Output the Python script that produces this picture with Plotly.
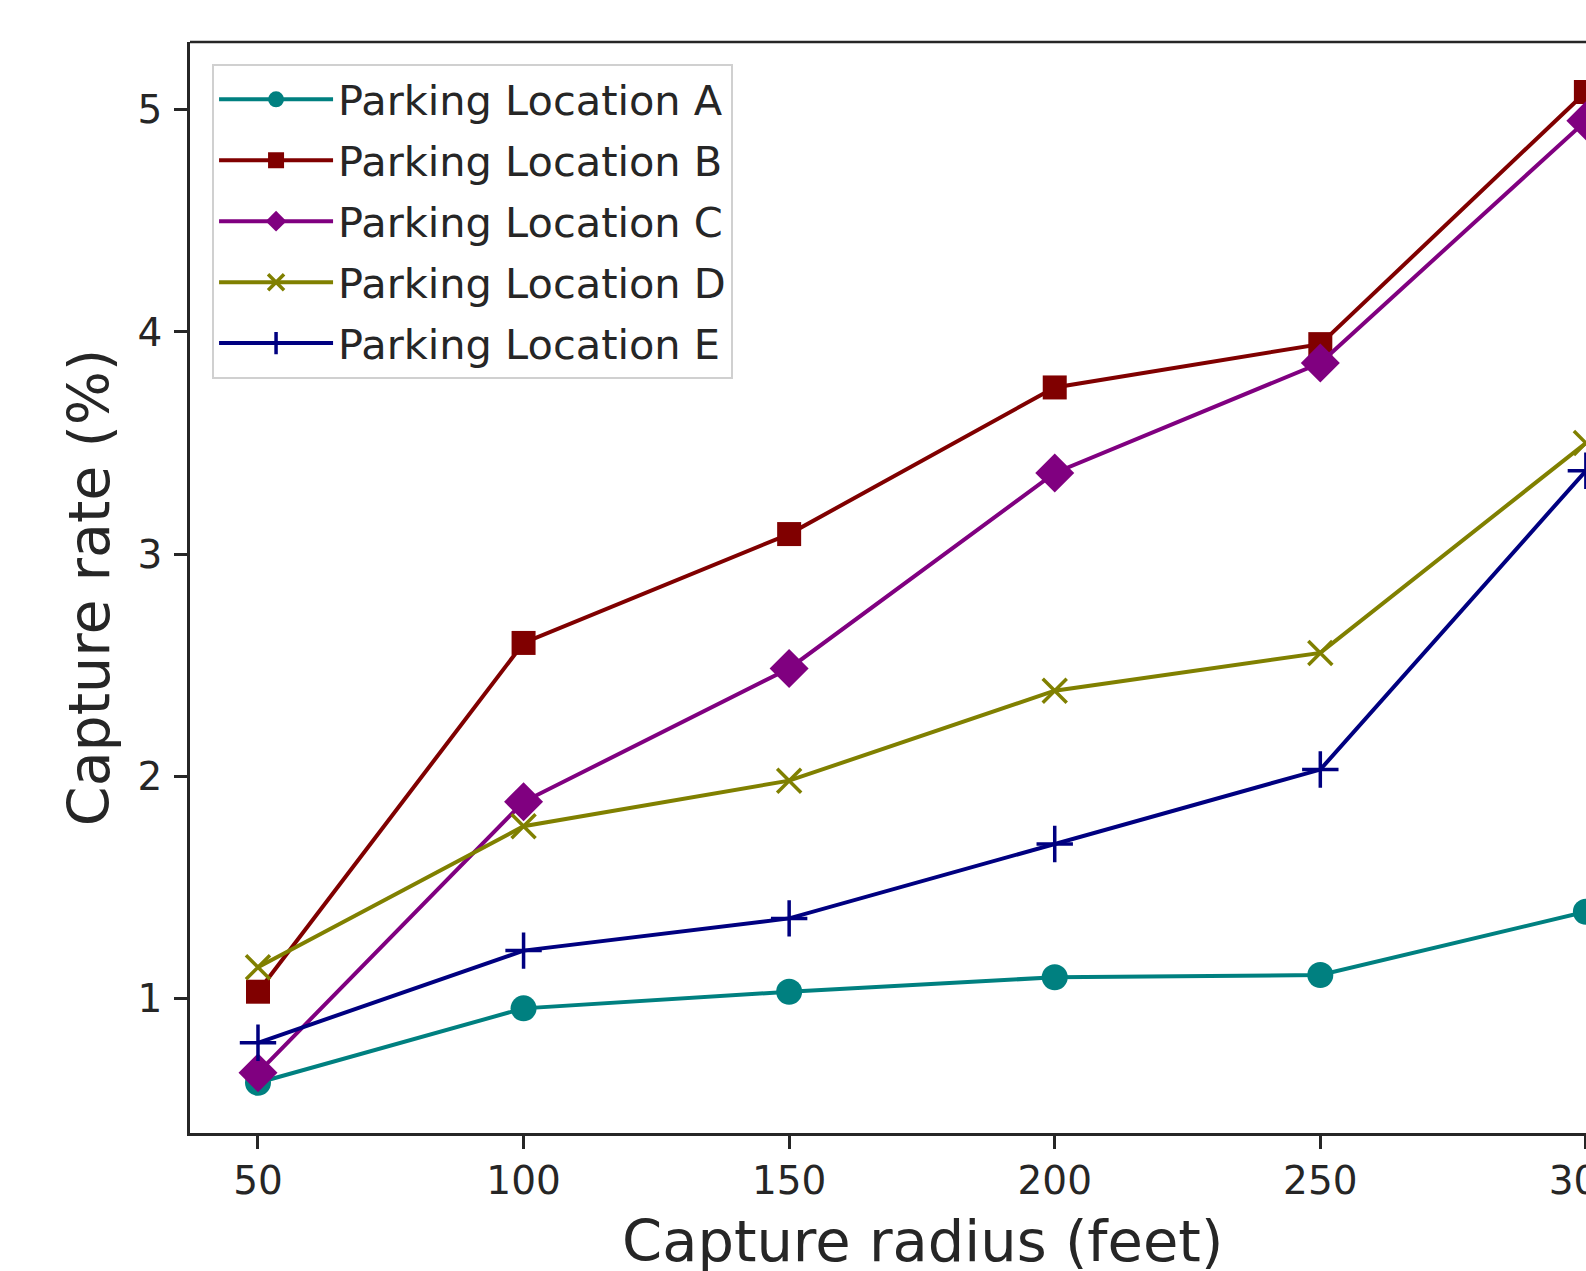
import plotly.graph_objects as go

radius = [50, 100, 150, 200, 250, 300]
names = ["Parking Location A", "Parking Location B", "Parking Location C",
         "Parking Location D", "Parking Location E"]
loc_a = [0.62, 0.955, 1.03, 1.095, 1.105, 1.39]
loc_b = [1.03, 2.60, 3.09, 3.75, 3.945, 5.08]
loc_c = [0.665, 1.885, 2.485, 3.365, 3.86, 4.95]
loc_d = [1.14, 1.775, 1.98, 2.385, 2.555, 3.50]
loc_e = [0.80, 1.215, 1.36, 1.695, 2.03, 3.375]
x_ticks = [50, 100, 150, 200, 250, 300]
y_ticks = [1, 2, 3, 4, 5]
x_title = "Capture radius (feet)"
y_title = "Capture rate (%)"

series = [loc_a, loc_b, loc_c, loc_d, loc_e]
colors = ["#008080", "#800000", "#800080", "#808000", "#000080"]
symbols = ["circle", "square", "diamond", "x-thin", "cross-thin"]
sizes = [26, 24, 30, 24, 26]

fig = go.Figure()
for i, (nm, ys, c, s, sz) in enumerate(zip(names, series, colors, symbols, sizes)):
    thin = s.endswith("thin")
    fig.add_trace(go.Scatter(
        x=radius, y=ys, name=nm, mode="lines+markers", legendgroup=f"g{i}",
        line=dict(color=c, width=4),
        marker=dict(symbol=s, size=sz, color=c,
                    line=dict(color=c, width=3.5 if thin else 0)),
    ))

axis_color = "#262626"
font_family = "DejaVu Sans"
fig.update_layout(
    width=1586, height=1271,
    margin=dict(l=190, r=0, t=42, b=138, autoexpand=False),
    plot_bgcolor="white", paper_bgcolor="white",
    font=dict(family=font_family, color="#262626", size=40),
    showlegend=True,
    legend=dict(
        x=0.0158, y=0.980, xanchor="left", yanchor="top",
        bgcolor="white", bordercolor="#d0d0d0", borderwidth=2,
        font=dict(size=41.5, family=font_family, color="#262626"),
        itemwidth=114, tracegroupgap=4,
    ),
    xaxis=dict(
        range=[37.2, 300.02], tickvals=x_ticks, ticktext=[str(v) for v in x_ticks],
        showline=True, linecolor=axis_color, linewidth=2.5,
        ticks="outside", ticklen=13, tickwidth=2.5, tickcolor=axis_color,
        showgrid=False, zeroline=False, ticklabeloverflow="allow", automargin=False,
        tickfont=dict(size=39), ticklabelstandoff=-2,
    ),
    yaxis=dict(
        range=[0.394, 5.305], tickvals=y_ticks, ticktext=[str(v) for v in y_ticks],
        showline=True, linecolor=axis_color, linewidth=2.5,
        ticks="outside", ticklen=13, tickwidth=2.5, tickcolor=axis_color,
        showgrid=False, zeroline=False, automargin=False,
        tickfont=dict(size=39), ticklabelstandoff=4,
        title=dict(text=y_title, font=dict(size=57), standoff=10),
    ),
    shapes=[dict(type="line", xref="paper", yref="paper", x0=0, x1=1, y0=1, y1=1,
                 line=dict(color=axis_color, width=2.5))],
    annotations=[dict(text=x_title, xref="paper", yref="paper", x=0.5244, y=-0.0999,
                      xanchor="center", yanchor="middle", showarrow=False,
                      font=dict(size=57.5, family=font_family, color="#262626"))],
)

fig.write_html(
    "out.html",
    config={"displayModeBar": False},
    post_script="document.body.style.margin='0';document.body.style.overflow='hidden';",
)
